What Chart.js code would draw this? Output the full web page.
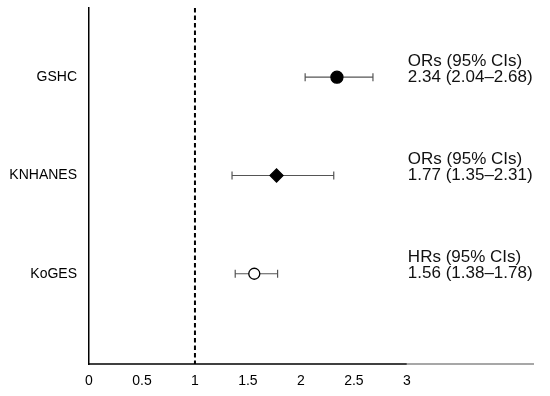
<!DOCTYPE html>
<html>
<head>
<meta charset="utf-8">
<script src="https://cdn.jsdelivr.net/npm/chart.js@4.4.0/dist/chart.umd.min.js"></script>
<style>
  html, body { margin: 0; padding: 0; background: #fff; }
  #wrap { width: 550px; height: 396px; }
</style>
</head>
<body>
<div id="wrap"><canvas id="forest"></canvas></div>
<script>
// data
var cohorts = ['GSHC', 'KNHANES', 'KoGES'];
var rowPos = [3, 2, 1];
var estimates = [2.34, 1.77, 1.56];
var lowerCI = [2.04, 1.35, 1.38];
var upperCI = [2.68, 2.31, 1.78];
var measureLabels = ['ORs (95% CIs)', 'ORs (95% CIs)', 'HRs (95% CIs)'];
var xTicks = [0, 0.5, 1, 1.5, 2, 2.5, 3];
var refLine = 1;

var markerStyle = ['circle', 'rectRot', 'circle'];
var markerFill = ['#000', '#000', '#fff'];
var markerRadius = [6, 6.5, 5.5];

var FONT = '"Liberation Sans", Arial, sans-serif';

var datasets = cohorts.map(function (name, i) {
    return {
        label: name,
        data: [{ x: estimates[i], y: rowPos[i] }],
        pointStyle: markerStyle[i],
        pointRadius: markerRadius[i],
        pointBackgroundColor: markerFill[i],
        pointBorderColor: '#000',
        pointBorderWidth: 1.3
    };
});

// error bars, reference line, axis line and the text on the right
var forestExtras = {
    id: 'forestExtras',
    beforeDatasetsDraw: function (chart) {
        var ctx = chart.ctx;
        var x = chart.scales.x, y = chart.scales.y;
        var area = chart.chartArea;
        ctx.save();
        // dashed line at 1
        var px = x.getPixelForValue(refLine);
        ctx.strokeStyle = '#000';
        ctx.lineWidth = 2;
        ctx.setLineDash([4.5, 3]);
        ctx.beginPath();
        ctx.moveTo(px, area.top);
        ctx.lineTo(px, area.bottom);
        ctx.stroke();
        ctx.setLineDash([]);
        // x axis line: black up to 3, grey after
        ctx.lineWidth = 1.5;
        ctx.strokeStyle = '#000';
        ctx.beginPath();
        ctx.moveTo(area.left, area.bottom);
        ctx.lineTo(x.getPixelForValue(xTicks[xTicks.length - 1]), area.bottom);
        ctx.stroke();
        ctx.strokeStyle = '#8a8a8a';
        ctx.beginPath();
        ctx.moveTo(x.getPixelForValue(xTicks[xTicks.length - 1]), area.bottom);
        ctx.lineTo(area.right, area.bottom);
        ctx.stroke();
        // CI whiskers
        ctx.strokeStyle = '#555';
        ctx.lineWidth = 1.2;
        for (var i = 0; i < cohorts.length; i++) {
            var py = y.getPixelForValue(rowPos[i]);
            var x1 = x.getPixelForValue(lowerCI[i]);
            var x2 = x.getPixelForValue(upperCI[i]);
            ctx.beginPath();
            ctx.moveTo(x1, py); ctx.lineTo(x2, py);
            ctx.moveTo(x1, py - 4); ctx.lineTo(x1, py + 4);
            ctx.moveTo(x2, py - 4); ctx.lineTo(x2, py + 4);
            ctx.stroke();
        }
        // text
        ctx.fillStyle = '#111';
        ctx.font = '17px ' + FONT;
        ctx.textAlign = 'left';
        ctx.textBaseline = 'middle';
        var tx = x.getPixelForValue(xTicks[xTicks.length - 1]) + 1;
        for (var j = 0; j < cohorts.length; j++) {
            var ty = y.getPixelForValue(rowPos[j]);
            ctx.fillText(measureLabels[j], tx, ty - 16);
            ctx.fillText(estimates[j].toFixed(2) + ' (' + lowerCI[j].toFixed(2) + '\u2013' + upperCI[j].toFixed(2) + ')', tx, ty);
        }
        ctx.restore();
    }
};

new Chart(document.getElementById('forest'), {
    type: 'scatter',
    data: { datasets: datasets },
    plugins: [forestExtras],
    options: {
        responsive: true,
        maintainAspectRatio: false,
        animation: false,
        layout: { padding: { top: 8, right: 16, left: 0, bottom: 0 } },
        plugins: {
            legend: { display: false },
            tooltip: { enabled: false }
        },
        scales: {
            x: {
                type: 'linear',
                min: 0,
                max: 4.2,
                afterBuildTicks: function (scale) {
                    scale.ticks = xTicks.map(function (v) { return { value: v }; });
                },
                afterFit: function (scale) {
                    scale.height = 32;
                    scale.paddingLeft = 0;
                    scale.paddingRight = 0;
                },
                grid: { display: false, drawTicks: false },
                border: { display: false },
                ticks: {
                    color: '#000',
                    padding: 9,
                    maxRotation: 0,
                    font: { family: FONT, size: 14 },
                    callback: function (v) { return String(v); }
                }
            },
            y: {
                type: 'linear',
                min: 0.082,
                max: 3.704,
                afterBuildTicks: function (scale) {
                    scale.ticks = rowPos.map(function (v) { return { value: v }; });
                },
                afterFit: function (scale) {
                    scale.width = 89;
                    scale.paddingTop = 0;
                    scale.paddingBottom = 0;
                },
                grid: { display: false, drawTicks: false },
                border: { display: true, color: '#000', width: 1.5 },
                ticks: {
                    color: '#000',
                    padding: 12,
                    font: { family: FONT, size: 14 },
                    callback: function (v) {
                        var k = rowPos.indexOf(v);
                        return k >= 0 ? cohorts[k] : '';
                    }
                }
            }
        }
    }
});
</script>
</body>
</html>
